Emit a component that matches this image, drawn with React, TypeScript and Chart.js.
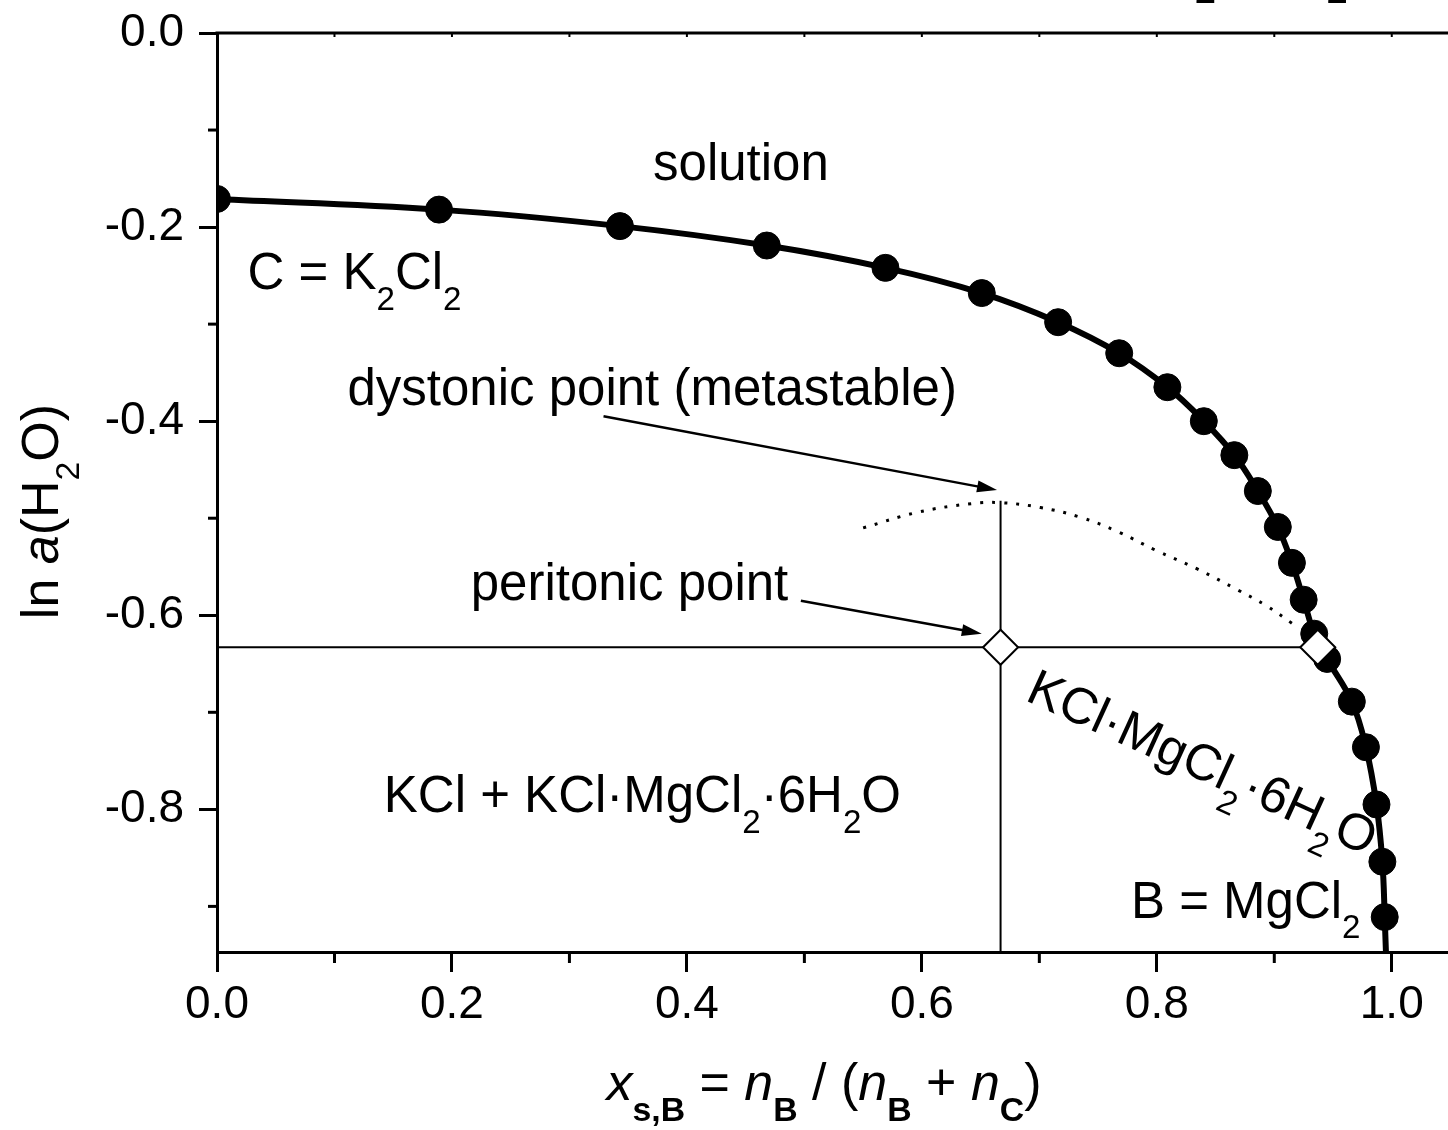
import React, { useEffect, useRef } from 'react';
import { Chart, registerables } from 'chart.js';

Chart.register(...registerables);

// ---------- data ----------
const CURVE_X = [0, 0.189, 0.343, 0.468, 0.569, 0.651, 0.716, 0.768, 0.809, 0.84, 0.866, 0.886, 0.903, 0.915, 0.925, 0.934, 0.945, 0.966, 0.978, 0.987, 0.992, 0.994];
const CURVE_Y = [-0.171, -0.182, -0.199, -0.219, -0.242, -0.268, -0.298, -0.33, -0.365, -0.4, -0.435, -0.472, -0.509, -0.546, -0.584, -0.619, -0.645, -0.689, -0.736, -0.795, -0.854, -0.911];
const CURVE_TAIL_X = [0.9965];
const CURVE_TAIL_Y = [-1.0];

const META_X = [0.55, 0.596, 0.642, 0.667, 0.701, 0.735, 0.767, 0.799, 0.834, 0.869, 0.893, 0.916];
const META_Y = [-0.51, -0.494, -0.485, -0.484, -0.489, -0.499, -0.514, -0.533, -0.552, -0.574, -0.59, -0.609];

const DIAMOND_X = [0.667, 0.937];
const DIAMOND_Y = [-0.633, -0.633];

const PERITONIC_LINE_X = [0, 0.937];
const PERITONIC_LINE_Y = [-0.633, -0.633];
const DYSTONIC_LINE_X = [0.667, 0.667];
const DYSTONIC_LINE_Y = [-0.482, -1.0];

const X_MIN = 0;
const X_MAX = 1.05;
const Y_MIN = -0.947;
const Y_MAX = 0;
const X_TICKS = [0, 0.2, 0.4, 0.6, 0.8, 1.0];
const X_MINOR = [0.1, 0.3, 0.5, 0.7, 0.9];
const TOP_TICKS = [0.1, 0.2, 0.3, 0.4, 0.5, 0.6, 0.7, 0.8, 0.9, 1.0];
const Y_TICKS = [0, -0.2, -0.4, -0.6, -0.8];
const Y_MINOR = [-0.1, -0.3, -0.5, -0.7, -0.9];

// ---------- text ----------
type Seg = { t: string; s?: 'i' | 'sub' | 'bsub' };

const FONT = '"Liberation Sans", Arial, Helvetica, sans-serif';

const LABELS: { x: number; y: number; align: 'left' | 'center'; rot?: number; segs: Seg[] }[] = [
  { x: 0.446, y: -0.1515, align: 'center', segs: [{ t: 'solution' }] },
  { x: 0.026, y: -0.264, align: 'left', segs: [{ t: 'C = K' }, { t: '2', s: 'sub' }, { t: 'Cl' }, { t: '2', s: 'sub' }] },
  { x: 0.111, y: -0.3835, align: 'left', segs: [{ t: 'dystonic point (metastable)' }] },
  { x: 0.216, y: -0.5845, align: 'left', segs: [{ t: 'peritonic point' }] },
  { x: 0.142, y: -0.803, align: 'left', segs: [{ t: 'KCl + KCl\u00B7MgCl' }, { t: '2', s: 'sub' }, { t: '\u00B76H' }, { t: '2', s: 'sub' }, { t: 'O' }] },
  { x: 0.778, y: -0.912, align: 'left', segs: [{ t: 'B = MgCl' }, { t: '2', s: 'sub' }] },
  { x: 0.687, y: -0.687, align: 'left', rot: 24.5, segs: [{ t: 'KCl\u00B7MgCl' }, { t: '2', s: 'sub' }, { t: '\u00B76H' }, { t: '2', s: 'sub' }, { t: 'O' }] },
];

const ARROWS = [
  { x1: 0.329, y1: -0.395, x2: 0.664, y2: -0.471 },
  { x1: 0.497, y1: -0.585, x2: 0.651, y2: -0.619 },
];

const X_TITLE: Seg[] = [
  { t: 'x', s: 'i' }, { t: 's,B', s: 'bsub' }, { t: ' = ' }, { t: 'n', s: 'i' }, { t: 'B', s: 'bsub' },
  { t: ' / (' }, { t: 'n', s: 'i' }, { t: 'B', s: 'bsub' }, { t: ' + ' }, { t: 'n', s: 'i' }, { t: 'C', s: 'bsub' }, { t: ')' },
];
const Y_TITLE: Seg[] = [{ t: 'ln ' }, { t: 'a', s: 'i' }, { t: '(H' }, { t: '2', s: 'sub' }, { t: 'O)' }];
const TOP_TITLE: Seg[] = [{ t: 'KCl \u2013 MgCl' }, { t: '2', s: 'sub' }, { t: ' \u2013 H' }, { t: '2', s: 'sub' }, { t: 'O' }];

function fontFor(s: Seg['s'], size: number) {
  const sub = s === 'sub' || s === 'bsub';
  const sz = sub ? size * 0.65 : size;
  const w = s === 'bsub' ? 'bold ' : '';
  const it = s === 'i' ? 'italic ' : '';
  return `${it}${w}${sz}px ${FONT}`;
}

function richWidths(ctx: CanvasRenderingContext2D, segs: Seg[], size: number) {
  return segs.map((sg) => {
    ctx.font = fontFor(sg.s, size);
    return ctx.measureText(sg.t).width;
  });
}

function drawRich(ctx: CanvasRenderingContext2D, segs: Seg[], x: number, y: number, size: number, align: 'left' | 'center') {
  const ws = richWidths(ctx, segs, size);
  const total = ws.reduce((a, b) => a + b, 0);
  let cx = align === 'center' ? x - total / 2 : x;
  ctx.textAlign = 'left';
  ctx.textBaseline = 'alphabetic';
  segs.forEach((sg, i) => {
    ctx.font = fontFor(sg.s, size);
    const dy = sg.s === 'sub' || sg.s === 'bsub' ? size * 0.4 : 0;
    ctx.fillText(sg.t, cx, y + dy);
    cx += ws[i];
  });
}

const overlay = {
  id: 'overlay',
  afterDraw(chart: any) {
    const { ctx, chartArea, scales } = chart;
    const xs = scales.x;
    const ys = scales.y;
    ctx.save();
    ctx.fillStyle = '#000';
    ctx.strokeStyle = '#000';

    // top frame
    ctx.lineWidth = 3;
    ctx.beginPath();
    ctx.moveTo(chartArea.left - 1.5, chartArea.top);
    ctx.lineTo(chartArea.right + 5, chartArea.top);
    ctx.stroke();

    // minor ticks
    ctx.lineWidth = 3;
    Y_MINOR.forEach((v) => {
      const py = ys.getPixelForValue(v);
      ctx.beginPath();
      ctx.moveTo(chartArea.left, py);
      ctx.lineTo(chartArea.left - 9, py);
      ctx.stroke();
    });
    X_MINOR.forEach((v) => {
      const px = xs.getPixelForValue(v);
      ctx.beginPath();
      ctx.moveTo(px, chartArea.bottom);
      ctx.lineTo(px, chartArea.bottom + 11);
      ctx.stroke();
    });
    ctx.lineWidth = 2;
    TOP_TICKS.forEach((v) => {
      const px = xs.getPixelForValue(v);
      ctx.beginPath();
      ctx.moveTo(px, chartArea.top);
      ctx.lineTo(px, chartArea.top + 4);
      ctx.stroke();
    });

    // arrows
    ARROWS.forEach((a) => {
      const x1 = xs.getPixelForValue(a.x1);
      const y1 = ys.getPixelForValue(a.y1);
      const x2 = xs.getPixelForValue(a.x2);
      const y2 = ys.getPixelForValue(a.y2);
      const ang = Math.atan2(y2 - y1, x2 - x1);
      const L = 20;
      const W = 6;
      ctx.lineWidth = 2.5;
      ctx.beginPath();
      ctx.moveTo(x1, y1);
      ctx.lineTo(x2 - Math.cos(ang) * L * 0.8, y2 - Math.sin(ang) * L * 0.8);
      ctx.stroke();
      ctx.beginPath();
      ctx.moveTo(x2, y2);
      ctx.lineTo(x2 - Math.cos(ang) * L - Math.sin(ang) * W, y2 - Math.sin(ang) * L + Math.cos(ang) * W);
      ctx.lineTo(x2 - Math.cos(ang) * L + Math.sin(ang) * W, y2 - Math.sin(ang) * L - Math.cos(ang) * W);
      ctx.closePath();
      ctx.fill();
    });

    // labels
    LABELS.forEach((lb) => {
      const px = xs.getPixelForValue(lb.x);
      const py = ys.getPixelForValue(lb.y);
      ctx.save();
      ctx.translate(px, py);
      if (lb.rot) ctx.rotate((lb.rot * Math.PI) / 180);
      drawRich(ctx, lb.segs, 0, 0, 51, lb.align);
      ctx.restore();
    });

    // axis titles
    drawRich(ctx, X_TITLE, 824, chartArea.bottom + 148, 52, 'center');
    ctx.save();
    ctx.translate(58, (chartArea.top + chartArea.bottom) / 2 + 19);
    ctx.rotate(-Math.PI / 2);
    drawRich(ctx, Y_TITLE, 0, 0, 52, 'center');
    ctx.restore();

    // cropped title at top
    const tsize = 60;
    const tw = richWidths(ctx, TOP_TITLE, tsize);
    const before = tw[0] + tw[1] + tw[2];
    const startX = 1337 - (before + tw[3] / 2);
    drawRich(ctx, TOP_TITLE, startX, chartArea.top - 93 + 63 - tsize * 0.4, tsize, 'left');

    ctx.restore();
  },
};

const pts = (xs: number[], ys: number[]) => xs.map((x, i) => ({ x, y: ys[i] }));

export default function App() {
  const ref = useRef<HTMLCanvasElement>(null);
  useEffect(() => {
    const canvas = ref.current!;
    const tickFont = { family: FONT, size: 46 };
    const chart = new Chart(canvas, {
      type: 'scatter',
      data: {
        datasets: [
          {
            data: pts(DIAMOND_X, DIAMOND_Y),
            pointStyle: 'rectRot',
            pointRadius: 17.5,
            pointBackgroundColor: '#fff',
            pointBorderColor: '#000',
            pointBorderWidth: 2,
            showLine: false,
            order: 0,
          },
          {
            data: pts(CURVE_X, CURVE_Y),
            pointStyle: 'circle',
            pointRadius: 13.5,
            pointBackgroundColor: '#000',
            pointBorderColor: '#000',
            pointBorderWidth: 1,
            showLine: false,
            clip: 0,
            order: 1,
          },
          {
            data: pts(CURVE_X.concat(CURVE_TAIL_X), CURVE_Y.concat(CURVE_TAIL_Y)),
            showLine: true,
            borderColor: '#000',
            borderWidth: 6,
            tension: 0.4,
            pointRadius: 0,
            clip: 0,
            order: 2,
          },
          {
            data: pts(PERITONIC_LINE_X, PERITONIC_LINE_Y),
            showLine: true,
            borderColor: '#000',
            borderWidth: 2,
            pointRadius: 0,
            clip: 0,
            order: 3,
          },
          {
            data: pts(DYSTONIC_LINE_X, DYSTONIC_LINE_Y),
            showLine: true,
            borderColor: '#000',
            borderWidth: 2,
            pointRadius: 0,
            clip: 0,
            order: 3,
          },
          {
            data: pts(META_X, META_Y),
            showLine: true,
            borderColor: '#000',
            borderWidth: 3,
            borderDash: [3, 9],
            tension: 0.4,
            pointRadius: 0,
            clip: 0,
            order: 4,
          },
        ],
      } as any,
      options: {
        animation: false,
        responsive: false,
        devicePixelRatio: 1,
        events: [],
        layout: { padding: { top: 93, right: 14, left: 0, bottom: 0 } },
        plugins: { legend: { display: false }, tooltip: { enabled: false }, title: { display: false } },
        scales: {
          x: {
            type: 'linear',
            min: X_MIN,
            max: X_MAX,
            afterFit: (s: any) => {
              s.height = 178;
            },
            afterBuildTicks: (s: any) => {
              s.ticks = X_TICKS.map((v) => ({ value: v }));
            },
            grid: { drawOnChartArea: false, drawTicks: true, tickLength: 20, tickWidth: 3, tickColor: '#000', color: '#000' },
            border: { display: true, color: '#000', width: 3 },
            ticks: {
              font: tickFont,
              color: '#000',
              padding: 6,
              maxRotation: 0,
              autoSkip: false,
              callback: (v: any) => Number(v).toFixed(1),
            },
          },
          y: {
            type: 'linear',
            min: Y_MIN,
            max: Y_MAX,
            afterFit: (s: any) => {
              s.width = 217;
            },
            afterBuildTicks: (s: any) => {
              s.ticks = Y_TICKS.map((v) => ({ value: v }));
            },
            grid: { drawOnChartArea: false, drawTicks: true, tickLength: 18, tickWidth: 3, tickColor: '#000', color: '#000' },
            border: { display: true, color: '#000', width: 3 },
            ticks: {
              font: tickFont,
              color: '#000',
              padding: 15,
              autoSkip: false,
              callback: (v: any) => Number(v).toFixed(1),
            },
          },
        },
      } as any,
      plugins: [overlay],
    });
    return () => chart.destroy();
  }, []);

  return (
    <div style={{ position: 'fixed', left: 0, top: 0, width: 1448, height: 1130, overflow: 'hidden', background: '#fff' }}>
      <canvas
        ref={ref}
        width={1470}
        height={1190}
        style={{ position: 'absolute', left: 0, top: -60, width: 1470, height: 1190 }}
      />
    </div>
  );
}
